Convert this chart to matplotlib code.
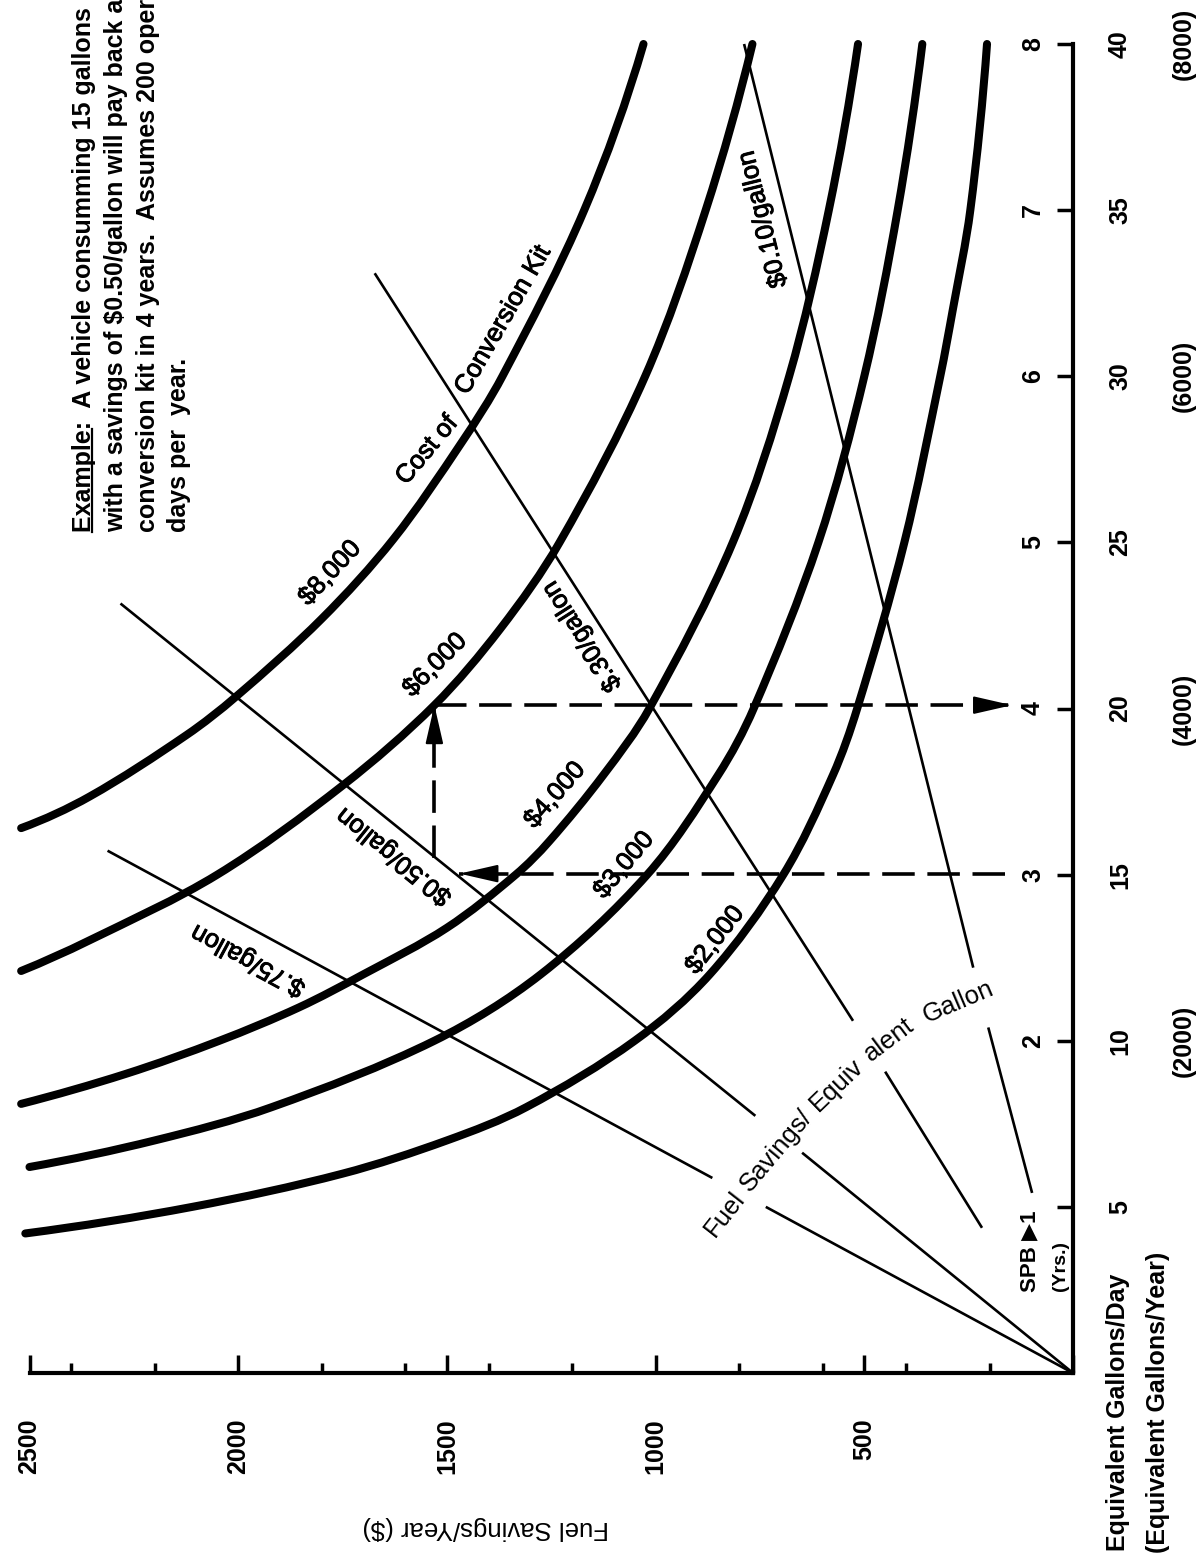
import matplotlib
matplotlib.use("Agg")
import numpy as np
import matplotlib.pyplot as plt
import matplotlib.patheffects as pe
from matplotlib.lines import Line2D
from matplotlib.path import Path
from matplotlib.patches import PathPatch
from matplotlib.ticker import NullLocator

plt.rcParams['font.family'] = ['Liberation Sans', 'DejaVu Sans']
plt.rcParams['text.parse_math'] = False

# ------------------------------------------------------------------ data
# Fuel savings per year ($) axis (horizontal in the rotated scan)
savings_major = [0, 500, 1000, 1500, 2000, 2500]
savings_major_labels = ['', '500', '1000', '1500', '2000', '2500']
savings_minor = [200, 400, 600, 800, 1200, 1400, 1600, 1800, 2200, 2400]

# Equivalent gallons/day axis (vertical) with simple payback years
gal_ticks = [5, 10, 15, 20, 25, 30, 35, 40]
gal_labels = ['5', '10', '15', '20', '25', '30', '35', '40']
spb_labels = ['1', '2', '3', '4', '5', '6', '7', '8']
gal_year_pos = [10, 20, 30, 40]
gal_year_labels = ['(2000)', '(4000)', '(6000)', '(8000)']

# Cost of conversion kit curves: (gallons/day, savings $/yr)
cost_names = ['$2,000', '$3,000', '$4,000', '$6,000', '$8,000']
cost_g = [
    [4.2, 5, 6, 7, 8, 10, 12, 15, 18, 20, 25, 30, 32, 35, 40],
    [6.2, 7, 8, 10, 12, 15, 18, 20, 25, 30, 35, 40],
    [8.1, 9, 10, 11, 12, 13.4, 15, 16, 18, 20, 25, 30, 35, 40],
    [12.1, 13, 15, 17.7, 20.1, 22.4, 25, 30, 35, 40],
    [16.4, 17.35, 19.2, 20.36, 22.7, 25.1, 28, 30, 35, 40],
]
cost_s = [
    [2510, 2110, 1750, 1500, 1310, 1050, 870, 694, 575, 517, 404, 318, 288, 246, 206],
    [2500, 2200, 1920, 1530, 1275, 1020, 850, 765, 610, 500, 420, 361],
    [2520, 2270, 2045, 1855, 1700, 1500, 1335, 1255, 1125, 1015, 815, 680, 585, 515],
    [2520, 2360, 2050, 1748, 1530, 1372, 1230, 1025, 880, 768],
    [2520, 2356, 2124, 2005, 1800, 1628, 1465, 1367, 1171, 1029],
]

# Fuel savings per equivalent gallon lines: segments (g0, g1), (s0, s1)
price_names = ['$.75/gallon', '$0.50/gallon', '$.30/gallon', '$0.10/gallon']
price_seg_g = [
    [(0, 5.0), (5.87, 15.72)],
    [(0, 6.63), (7.74, 23.16)],
    [(4.37, 9.07), (10.6, 33.1)],
    [(5.42, 10.4), (12.2, 40.0)],
]
price_seg_s = [
    [(0, 736), (864, 2313)],
    [(0, 649), (761, 2282)],
    [(218, 450), (527, 1673)],
    [(98, 203), (239, 788)],
]

# Worked example: 15 gal/day at $0.50/gal -> $1500/yr -> $6000 kit -> 4 years
example_gal = 15.03
example_savings = 1530
example_tip_s = 1470
example_payback_gal = 20.1
example_start_s = 163
example_end_s = 146

example_lines = [
    'Example:  A vehicle consumming 15 gallons',
    'with a savings of $0.50/gallon will pay back a',
    'conversion kit in 4 years.  Assumes 200 oper',
    'days per  year.',
]

# ------------------------------------------------------------------ layout
W, H = 1196, 1556
PX_L, PX_R, PX_T, PX_B = 29.5, 1073.0, 44.0, 1373.0
SX = (PX_R - PX_L) / 2500.0   # px per $
SY = (PX_B - PX_T) / 40.0     # px per gal/day


def S(px):
    return (PX_R - px) / SX


def G(py):
    return (PX_B - py) / SY


def smooth_path(s_vals, g_vals):
    """Smooth cubic path through the read points (in pixel-proportional space)."""
    P = np.column_stack([np.asarray(s_vals, float) * SX, np.asarray(g_vals, float) * SY])
    n = len(P)
    d = np.linalg.norm(np.diff(P, axis=0), axis=1)
    T = np.zeros_like(P)
    for i in range(1, n - 1):
        T[i] = (P[i + 1] - P[i - 1]) / (d[i - 1] + d[i])
    T[0] = 2 * (P[1] - P[0]) / d[0] - T[1]
    T[-1] = 2 * (P[-1] - P[-2]) / d[-1] - T[-2]
    verts = [P[0]]
    codes = [Path.MOVETO]
    for i in range(n - 1):
        verts += [P[i] + T[i] * d[i] / 3, P[i + 1] - T[i + 1] * d[i] / 3, P[i + 1]]
        codes += [Path.CURVE4] * 3
    V = np.array(verts)
    V[:, 0] /= SX
    V[:, 1] /= SY
    return Path(V, codes)


fig = plt.figure(figsize=(W / 100, H / 100), dpi=100)
ax = fig.add_axes([PX_L / W, 1 - PX_B / H, (PX_R - PX_L) / W, (PX_B - PX_T) / H])
ax.set_xlim(2500, 0)
ax.set_ylim(0, 40)
ax.patch.set_visible(False)
for sp in ['top', 'left']:
    ax.spines[sp].set_visible(False)
for sp in ['bottom', 'right']:
    ax.spines[sp].set_linewidth(3)

ax.xaxis.set_ticks_position('bottom')
ax.yaxis.set_ticks_position('right')
ax.set_xticks(savings_major)
ax.set_xticklabels(savings_major_labels, rotation=90, fontsize=18,
                   fontweight='bold', va='top', ha='center')
ax.set_xticks(savings_minor, minor=True)
ax.tick_params(axis='x', which='major', direction='in', length=13, width=2.5, pad=33)
ax.tick_params(axis='x', which='minor', direction='in', length=7, width=2.5)
ax.set_yticks(gal_ticks)
ax.yaxis.set_minor_locator(NullLocator())
ax.tick_params(axis='y', which='major', direction='in', length=11.5, width=2.5,
               labelright=False, labelleft=False)

# cost curves
for g, s in zip(cost_g, cost_s):
    ax.add_patch(PathPatch(smooth_path(s, g), fill=False, edgecolor='black',
                           lw=5.8, capstyle='round', joinstyle='round',
                           clip_on=False, zorder=3))

# price lines
for segs_g, segs_s in zip(price_seg_g, price_seg_s):
    for gg, ss in zip(segs_g, segs_s):
        ax.plot(ss, gg, color='black', lw=1.9, solid_capstyle='butt',
                clip_on=False, zorder=2)

# example dashed path
dkw = dict(color='black', lw=2.6, dashes=(9, 3.5), zorder=4, clip_on=False)
ax.plot([example_start_s, example_tip_s], [example_gal, example_gal], **dkw)
ax.plot([example_savings, example_savings], [G(858), example_payback_gal], **dkw)
ax.plot([example_savings, example_end_s], [example_payback_gal, example_payback_gal], **dkw)

akw = dict(arrowstyle='-|>,head_length=24,head_width=5.5', mutation_scale=1,
           color='black', lw=1.5, shrinkA=0, shrinkB=0)
ax.annotate('', xy=(example_tip_s, example_gal),
            xytext=(example_tip_s - 36 / SX, example_gal), arrowprops=akw)
ax.annotate('', xy=(example_savings, example_payback_gal),
            xytext=(example_savings, example_payback_gal - 36 / SY), arrowprops=akw)
ax.annotate('', xy=(example_end_s, example_payback_gal),
            xytext=(example_end_s + 36 / SX, example_payback_gal), arrowprops=akw)

# ------------------------------------------------------------------ labels
FS = 18.5
thick = [pe.withStroke(linewidth=0.7, foreground='black')]
cost_label_pos = {  # pixel centre x, y, rotation
    '$2,000': (715, 940, 52),
    '$3,000': (624, 865, 50),
    '$4,000': (555, 795, 49),
    '$6,000': (435, 665, 45),
    '$8,000': (330, 573, 47),
}
for name in cost_names:
    px, py, rot = cost_label_pos[name]
    ax.text(S(px), G(py), name, rotation=rot, ha='center', va='center',
            fontsize=FS, rotation_mode='anchor', path_effects=thick)

price_label_pos = {
    '$.75/gallon': (248, 960, 151.6),
    '$0.50/gallon': (394, 856, 141.1),
    '$.30/gallon': (582, 636, 122.5),
    '$0.10/gallon': (763, 219, 103.9),
}
for name in price_names:
    px, py, rot = price_label_pos[name]
    ax.text(S(px), G(py), name, rotation=rot, ha='center', va='center',
            fontsize=FS, rotation_mode='anchor', path_effects=thick)

ax.text(S(427), G(450), 'Cost of', rotation=50, ha='center', va='center',
        fontsize=FS, rotation_mode='anchor', path_effects=thick)
ax.text(S(503), G(320), 'Conversion Kit', rotation=60, ha='center', va='center',
        fontsize=FS, rotation_mode='anchor', path_effects=thick)

# arched label "Fuel Savings/ Equivalent Gallon" (word pieces along the arc)
arc_words = [  # text, baseline-left pixel x, y, rotation
    ('Fuel', 715, 1238, 52),
    ('Savings/', 750, 1193, 50),
    ('Equiv', 818, 1112, 44),
    ('alent', 871, 1062, 37),
    ('Gallon', 927, 1023, 23),
]
for word, px, py, rot in arc_words:
    ax.text(S(px), G(py), word, rotation=rot, ha='left', va='baseline',
            fontsize=FS, rotation_mode='anchor')

# right-hand scales
for g, lab in zip(gal_ticks[1:], spb_labels[1:]):
    ax.text(S(1033), g, lab, rotation=90, ha='center', va='center',
            fontsize=18, fontweight='bold')
ax.text(S(1030), G(1211), 'SPB \u25B61', rotation=90, ha='center', va='top',
        fontsize=16, fontweight='bold')
ax.text(S(1061), G(1266), '(Yrs.)', rotation=90, ha='center', va='center',
        fontsize=14, fontweight='bold')
for g, lab in zip(gal_ticks, gal_labels):
    ax.text(S(1120), g, lab, rotation=90, ha='center', va='center',
            fontsize=18, fontweight='bold')
for g, lab in zip(gal_year_pos, gal_year_labels):
    ax.text(S(1184), g, lab, rotation=90, ha='center', va='center',
            fontsize=18, fontweight='bold')
ax.text(S(1118), G(1551), 'Equivalent Gallons/Day', rotation=90, ha='center',
        va='bottom', fontsize=18, fontweight='bold')
ax.text(S(1158), G(1553), '(Equivalent Gallons/Year)', rotation=90, ha='center',
        va='bottom', fontsize=18, fontweight='bold')

# savings axis title (upside down in the rotated scan)
ax.text(S(486), G(1528), 'Fuel Savings/Year ($)', rotation=180, ha='center',
        va='center', fontsize=FS)

# example text block
ex_x = [84, 116, 148, 179]
for x, line in zip(ex_x, example_lines):
    ax.text(S(x), G(532), line, rotation=90, ha='center', va='bottom',
            fontsize=18, fontweight='bold')

# underline of "Example"
helper = ax.text(S(ex_x[0]), G(532), 'Example', rotation=90, ha='center',
                 va='bottom', fontsize=18, fontweight='bold', alpha=0)
renderer = fig.canvas.get_renderer()
bb = helper.get_window_extent(renderer=renderer)
ux = bb.x1 - 4.0
inv = fig.transFigure.inverted()
(p0, p1) = inv.transform([(ux, bb.y0), (ux, bb.y1)])
fig.add_artist(Line2D([p0[0], p1[0]], [p0[1], p1[1]], color='black', lw=1.6))

fig.savefig('out.png', dpi=100, facecolor='white')
